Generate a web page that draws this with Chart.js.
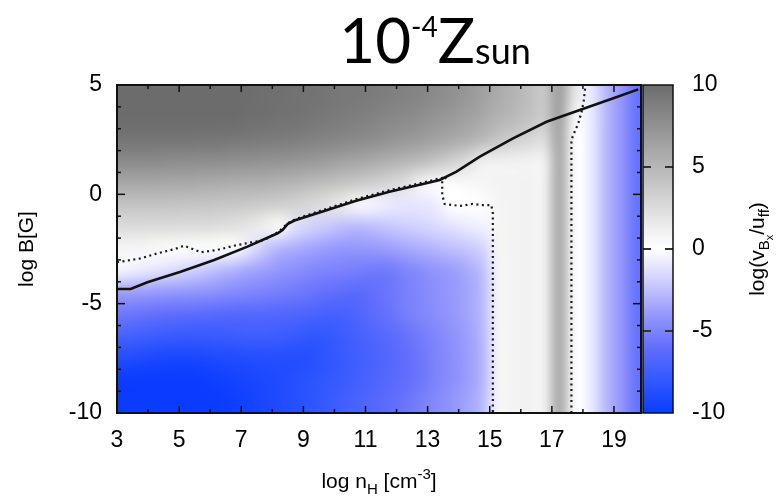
<!DOCTYPE html>
<html>
<head>
<meta charset="utf-8">
<script src="https://cdn.jsdelivr.net/npm/chart.js@4.4.1/dist/chart.umd.min.js"></script>
<style>
  html, body { margin: 0; padding: 0; background: #fff; }
  #wrap { width: 782px; height: 500px; position: relative; }
</style>
</head>
<body>
<div id="wrap"><canvas id="chart"></canvas></div>
<script>
// heat map cells (centres in log n_H / log B), value = log(vBx/uff)
const cellX = [3.25, 3.75, 4.25, 4.75, 5.25, 5.75, 6.25, 6.75, 7.25, 7.75,
  8.25, 8.75, 9.25, 9.75, 10.25, 10.75, 11.25, 11.75, 12.25, 12.75,
  13.25, 13.75, 14.25, 14.75, 15.25, 15.75, 16.25, 16.75, 17.25, 17.75,
  18.25, 18.75, 19.25, 19.75];
const cellY = [4.5, 3.5, 2.5, 1.5, 0.5, -0.5, -1.5, -2.5, -3.5, -4.5, -5.5, -6.5, -7.5, -8.5, -9.5];
const heat = [
  [10,10,10,10,10,10,10,10,9.9,9.8, 9.7,9.6,9.5,9.4,9.2,9.1,8.9,8.7,8.5,8.3, 7.9,7.6,7.1,6.5,5.8,5.2,4.5,3.9,6.6,1.8, -0.8,-2.8,-4.2,-5.8],
  [10,10,10,10,10,10,10,10,9.8,9.7, 9.6,9.5,9.3,9.1,8.9,8.7,8.5,8.2,8.0,7.7, 7.3,7.0,6.5,6.0,5.3,4.8,4.2,3.7,6.4,0.5, -0.8,-2.8,-4.2,-5.8],
  [9.4,9.4,9.4,9.4,9.4,9.3,9.3,9.2,9.1,9.0, 8.9,8.8,8.6,8.4,8.2,8.0,7.7,7.4,7.1,6.8, 6.4,6.0,5.5,4.8,4.0,3.4,2.9,2.5,6.1,0.0, -0.8,-2.8,-4.2,-5.8],
  [7.9,7.9,7.9,7.8,7.8,7.7,7.7,7.6,7.5,7.4, 7.3,7.2,7.0,6.7,6.4,6.1,5.8,5.4,5.0,4.6, 4.0,3.3,2.5,1.2,1.1,1.0,1.0,1.1,6.0,0.0, -0.8,-2.8,-4.2,-5.8],
  [6.0,6.0,6.0,5.9,5.9,5.8,5.7,5.6,5.5,5.4, 5.2,5.0,4.7,4.4,4.0,3.7,3.3,2.8,2.2,1.0, -0.2,0.3,0.5,0.7,0.9,0.9,1.0,1.1,6.0,0.0, -0.8,-2.8,-4.2,-5.8],
  [4.1,4.1,4.1,4.1,4.0,4.0,3.9,3.8,3.7,3.5, 3.3,3.0,2.6,2.1,1.4,0.5,-0.4,-0.8,-1.0,-1.0, -0.8,0.0,0.1,0.1,0.8,0.9,1.0,1.1,6.0,0.0, -0.8,-2.8,-4.2,-5.8],
  [2.5,2.5,2.5,2.5,2.4,2.4,2.3,2.1,1.7,1.0, 0.3,-1.2,-1.8,-2.2,-2.6,-2.8,-2.6,-2.3,-2.0,-1.8, -1.5,-1.2,-0.9,-0.6,0.8,0.9,1.0,1.1,6.0,0.0, -0.8,-2.8,-4.2,-5.8],
  [0.7,0.6,0.4,0.2,-0.1,-0.1,0.0,-0.1,-1.0,-2.2, -3.0,-3.3,-3.6,-3.9,-4.1,-4.1,-4.0,-3.8,-3.5,-3.2, -2.9,-2.6,-2.3,-1.8,0.8,0.9,1.0,1.1,6.0,0.0, -0.8,-2.8,-4.2,-5.8],
  [-0.5,-0.8,-1.1,-1.4,-1.8,-2.2,-2.7,-3.1,-3.5,-3.8, -4.2,-4.5,-4.8,-5.0,-5.1,-5.3,-5.5,-5.5,-5.0,-4.6, -4.2,-3.9,-3.4,-2.6,0.8,0.9,1.0,1.1,6.0,0.0, -0.8,-2.8,-4.2,-5.8],
  [-3.8,-3.9,-4.0,-4.1,-4.2,-4.3,-4.5,-4.7,-4.9,-5.1, -5.3,-5.5,-5.7,-6.0,-6.2,-6.4,-6.0,-5.6,-5.2,-4.8, -4.4,-4.0,-3.6,-2.8,0.8,0.9,1.0,1.1,6.0,0.0, -0.8,-2.8,-4.2,-5.8],
  [-5.6,-5.8,-6.0,-6.2,-6.3,-6.4,-6.5,-6.6,-6.6,-6.6, -6.7,-6.8,-7.0,-7.2,-7.2,-6.8,-6.2,-5.8,-5.3,-4.9, -4.5,-4.1,-3.6,-2.8,0.8,0.9,1.0,1.1,6.0,0.0, -0.8,-2.8,-4.2,-5.8],
  [-7.2,-7.4,-7.6,-7.7,-7.8,-7.8,-7.7,-7.6,-7.5,-7.5, -7.6,-7.8,-8.1,-8.0,-7.6,-7.2,-6.8,-6.4,-5.9,-5.4, -4.9,-4.4,-3.8,-2.9,0.8,0.9,1.0,1.1,6.0,0.0, -0.8,-2.8,-4.2,-5.8],
  [-8.8,-9.0,-9.2,-9.3,-9.3,-9.2,-9.0,-8.9,-8.8,-8.7, -8.7,-8.8,-8.6,-8.2,-7.8,-7.4,-7.0,-6.6,-6.1,-5.6, -5.0,-4.5,-3.9,-3.0,0.8,0.9,1.0,1.1,6.0,0.0, -0.8,-2.8,-4.2,-5.8],
  [-10,-10,-10,-10,-10,-9.9,-9.7,-9.5,-9.3,-9.1, -8.9,-8.6,-8.3,-8.0,-7.7,-7.3,-6.9,-6.5,-6.1,-5.6, -5.0,-4.5,-3.9,-3.0,0.8,0.9,1.0,1.1,6.0,0.0, -0.8,-2.8,-4.2,-5.8],
  [-10,-10,-10,-10,-10,-10,-10,-9.8,-9.5,-9.2, -8.9,-8.6,-8.2,-7.8,-7.4,-7.0,-6.6,-6.2,-5.7,-5.2, -4.7,-4.2,-3.6,-2.8,0.8,0.9,1.0,1.1,6.0,0.0, -0.8,-2.8,-4.2,-5.8]
];

// solid curve
const lineX = [3, 3.44, 3.98, 5.05, 6.13, 7.2, 8.17, 8.33, 8.49, 8.71, 9.62, 10.7, 11.77, 12.85, 13.39, 13.93, 14.68, 15.75, 16.83, 17.9, 18.98, 19.78];
const lineY = [-4.33, -4.33, -4.02, -3.54, -3.0, -2.39, -1.78, -1.63, -1.36, -1.2, -0.79, -0.29, 0.12, 0.47, 0.66, 1.04, 1.72, 2.56, 3.32, 3.86, 4.39, 4.8];

// dotted contours (v = 0)
const contourAX = [3, 3.12, 3.76, 4.3, 4.84, 5.16, 5.38, 5.7, 6.24, 6.77, 7.31, 7.74, 8.2, 8.5, 8.75, 9.62, 10.7, 11.77, 12.85, 13.39, 13.6, 13.47, 13.47, 13.55, 14.03, 14.45, 14.78, 15.05, 15.1, 15.1];
const contourAY = [-3.1, -3.08, -2.93, -2.7, -2.51, -2.35, -2.47, -2.65, -2.54, -2.35, -2.2, -2.09, -1.72, -1.32, -1.13, -0.72, -0.22, 0.19, 0.54, 0.73, 0.78, 0.6, -0.03, -0.44, -0.53, -0.44, -0.49, -0.49, -0.87, -10];
const contourBX = [17.63, 17.63, 17.69, 17.85, 17.96, 18.03, 18.07, 18.08];
const contourBY = [-10, 2.49, 2.71, 3.25, 3.78, 4.31, 4.85, 5];

const xTicks = [3, 5, 7, 9, 11, 13, 15, 17, 19];
const yTicks = [-10, -5, 0, 5];
const cbTicks = [-10, -5, 0, 5, 10];

// colour scale: blue (negative) - white - grey (positive)
const colorStops = [
  [-10, [10, 60, 255]], [-8, [50, 88, 255]], [-6, [98, 110, 252]], [-4, [150, 152, 252]],
  [-2, [205, 205, 254]], [0, [255, 255, 255]], [1, [242, 242, 242]], [10, [108, 108, 108]]
];

const axisFont = "'Liberation Sans', Arial, Helvetica, sans-serif";
const titleFont = "Lato, 'Open Sans', sans-serif";

function colorFor(v) {
  if (v <= colorStops[0][0]) return colorStops[0][1];
  for (let i = 1; i < colorStops.length; i++) {
    const [v1, c1] = colorStops[i];
    if (v <= v1) {
      const [v0, c0] = colorStops[i - 1];
      const t = (v - v0) / (v1 - v0);
      return c0.map((c, k) => Math.round(c + (c1[k] - c) * t));
    }
  }
  return colorStops[colorStops.length - 1][1];
}

const pts = (xs, ys) => xs.map((x, i) => ({ x: x, y: ys[i] }));

// Heat map: one pixel per cell, scaled into the plot through the axes
const heatmapPlugin = {
  id: 'heatmap',
  beforeDatasetsDraw(chart) {
    const { ctx, chartArea: a, scales: { x, y } } = chart;
    const off = document.createElement('canvas');
    off.width = cellX.length;
    off.height = cellY.length;
    const octx = off.getContext('2d');
    const img = octx.createImageData(off.width, off.height);
    heat.forEach((row, j) => row.forEach((v, i) => {
      const c = colorFor(v);
      const k = (j * off.width + i) * 4;
      img.data[k] = c[0]; img.data[k + 1] = c[1]; img.data[k + 2] = c[2]; img.data[k + 3] = 255;
    }));
    octx.putImageData(img, 0, 0);
    const dx = (cellX[1] - cellX[0]) / 2, dy = (cellY[0] - cellY[1]) / 2;
    const left = x.getPixelForValue(cellX[0] - dx);
    const right = x.getPixelForValue(cellX[cellX.length - 1] + dx);
    const top = y.getPixelForValue(cellY[0] + dy);
    const bottom = y.getPixelForValue(cellY[cellY.length - 1] - dy);
    ctx.save();
    ctx.beginPath();
    ctx.rect(a.left, a.top, a.width, a.height);
    ctx.clip();
    ctx.imageSmoothingEnabled = true;
    ctx.imageSmoothingQuality = 'high';
    ctx.drawImage(off, left, top, right - left, bottom - top);
    ctx.restore();
  }
};

// thin filled bars for ticks and borders
function hbar(ctx, x1, x2, y, w) { ctx.fillRect(Math.min(x1, x2), y - w / 2, Math.abs(x2 - x1), w); }
function vbar(ctx, x, y1, y2, w) { ctx.fillRect(x - w / 2, Math.min(y1, y2), w, Math.abs(y2 - y1)); }
function box(ctx, l, t, r, b, w) {
  hbar(ctx, l - w / 2, r + w / 2, t, w); hbar(ctx, l - w / 2, r + w / 2, b, w);
  vbar(ctx, l, t, b, w); vbar(ctx, r, t, b, w);
}

// Frame, inward ticks (gnuplot style) and colour bar
const framePlugin = {
  id: 'framebox',
  afterDraw(chart) {
    const { ctx, chartArea: a, scales: { x, y, cb } } = chart;
    ctx.save();

    // colour bar, drawn on the cb scale
    const x0 = a.right + 2, w = 30;
    const yTop = cb.getPixelForValue(cb.max), yBot = cb.getPixelForValue(cb.min);
    const g = ctx.createLinearGradient(0, yBot, 0, yTop);
    colorStops.forEach(([v, c]) => {
      g.addColorStop((v - cb.min) / (cb.max - cb.min), `rgb(${c[0]},${c[1]},${c[2]})`);
    });
    ctx.fillStyle = g;
    ctx.fillRect(x0, yTop, w, yBot - yTop);
    ctx.fillStyle = '#333';
    cbTicks.forEach(v => {
      if (v === cb.min || v === cb.max) return;
      const py = cb.getPixelForValue(v);
      hbar(ctx, x0, x0 + 8, py, 2);
      hbar(ctx, x0 + w - 8, x0 + w, py, 2);
    });
    ctx.fillStyle = '#111';
    box(ctx, x0, yTop, x0 + w, yBot, 1.5);

    // plot ticks
    for (let v = Math.ceil(x.min); v <= x.max; v++) {
      const px = x.getPixelForValue(v);
      const len = xTicks.includes(v) ? 7 : 4;
      vbar(ctx, px, a.bottom, a.bottom - len, 1.5);
      vbar(ctx, px, a.top, a.top + len, 1.5);
    }
    for (let v = y.min; v <= y.max; v++) {
      const py = y.getPixelForValue(v);
      const len = yTicks.includes(v) ? 8 : 4;
      hbar(ctx, a.left, a.left + len, py, 1.5);
      hbar(ctx, a.right, a.right - len, py, 1.5);
    }
    box(ctx, a.left, a.top, a.right, a.bottom, 2);
    ctx.restore();
  }
};

// text with sub/superscripts: parts = [text, size, dy, family]
function drawRich(ctx, parts, x, y) {
  let w = 0;
  parts.forEach(p => { ctx.font = `${p[1]}px ${p[3] || axisFont}`; w += ctx.measureText(p[0]).width; });
  let cx = x - w / 2;
  parts.forEach(p => {
    ctx.font = `${p[1]}px ${p[3] || axisFont}`;
    ctx.fillText(p[0], cx, y + p[2]);
    cx += ctx.measureText(p[0]).width;
  });
}

const titlesPlugin = {
  id: 'titles',
  afterDraw(chart) {
    const { ctx, chartArea: a } = chart;
    ctx.save();
    ctx.fillStyle = '#000';
    ctx.textBaseline = 'alphabetic';
    ctx.textAlign = 'left';
    // main title
    drawRich(ctx, [['10', 62, 0, titleFont], ['-4', 28, -26, titleFont], ['Z', 62, 0, titleFont], ['sun', 36, 1, titleFont]], 435, 63);
    // x title
    drawRich(ctx, [['log n', 21, 0], ['H', 15, 6], [' [cm', 21, 0], ['-3', 15, -9], [']', 21, 0]], (a.left + a.right) / 2, 488);
    // left y title
    ctx.save();
    ctx.translate(33, (a.top + a.bottom) / 2);
    ctx.rotate(-Math.PI / 2);
    drawRich(ctx, [['log B[G]', 21, 0]], 0, 0);
    ctx.restore();
    // colour bar title
    ctx.save();
    ctx.translate(764, (a.top + a.bottom) / 2);
    ctx.rotate(-Math.PI / 2);
    drawRich(ctx, [['log(v', 21, 0], ['B', 15, 5], ['x', 11, 9], ['/u', 21, 0], ['ff', 15, 5], [')', 21, 0]], 0, 0);
    ctx.restore();
    ctx.restore();
  }
};

const tickFont = { family: axisFont, size: 23 };

new Chart(document.getElementById('chart'), {
  type: 'scatter',
  data: {
    datasets: [
      {
        label: 'line',
        data: pts(lineX, lineY),
        showLine: true, borderColor: '#111', borderWidth: 2.6, pointRadius: 0, yAxisID: 'y'
      },
      {
        label: 'contour A',
        data: pts(contourAX, contourAY),
        showLine: true, borderColor: '#1a1a1a', borderWidth: 2.2, borderDash: [2, 3.5], pointRadius: 0, yAxisID: 'y'
      },
      {
        label: 'contour B',
        data: pts(contourBX, contourBY),
        showLine: true, borderColor: '#1a1a1a', borderWidth: 2.2, borderDash: [2, 3.5], pointRadius: 0, yAxisID: 'y'
      }
    ]
  },
  options: {
    responsive: true,
    maintainAspectRatio: false,
    animation: false,
    layout: { padding: { top: 85, left: 0, right: 0, bottom: 0 } },
    plugins: { legend: { display: false }, tooltip: { enabled: false } },
    scales: {
      x: {
        type: 'linear', position: 'bottom', min: 3, max: 19.87,
        grid: { display: false, drawTicks: false }, border: { display: false },
        afterBuildTicks: s => { s.ticks = xTicks.map(v => ({ value: v })); },
        afterFit: s => { s.height = 87; },
        ticks: { autoSkip: false, maxRotation: 0, padding: 14, color: '#000', font: tickFont }
      },
      y: {
        type: 'linear', position: 'left', min: -10, max: 5,
        grid: { display: false, drawTicks: false }, border: { display: false },
        afterBuildTicks: s => { s.ticks = yTicks.map(v => ({ value: v })); },
        afterFit: s => { s.width = 117; },
        ticks: { padding: 15, color: '#000', font: tickFont }
      },
      cb: {
        type: 'linear', position: 'right', min: -10, max: 10,
        grid: { display: false, drawTicks: false }, border: { display: false },
        afterBuildTicks: s => { s.ticks = cbTicks.map(v => ({ value: v })); },
        afterFit: s => { s.width = 141; },
        ticks: { padding: 51, color: '#000', font: tickFont }
      }
    }
  },
  plugins: [heatmapPlugin, framePlugin, titlesPlugin]
});
</script>
</body>
</html>
